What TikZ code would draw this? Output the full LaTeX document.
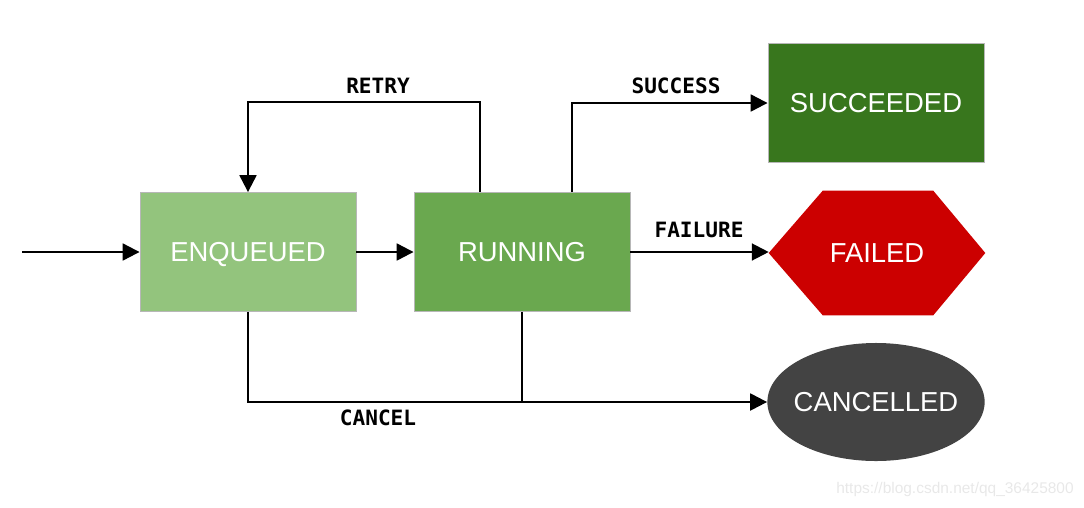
\documentclass[tikz,border=0pt]{standalone}
\usepackage{fontspec}
\setmainfont{Liberation Sans}
\newfontfamily\labelfont{DejaVu Sans Mono}
\usetikzlibrary{arrows.meta,shapes.geometric,backgrounds}
\definecolor{enqgreen}{HTML}{93C47D}
\definecolor{rungreen}{HTML}{6AA84F}
\definecolor{succgreen}{HTML}{38761D}
\definecolor{failred}{HTML}{CC0000}
\definecolor{cancgray}{HTML}{434343}
\definecolor{boxgray}{HTML}{B7B7B7}
\begin{document}
\begin{tikzpicture}[x=0.025cm, y=-0.025cm,
    statetext/.style={inner sep=0pt, text=white, text height=14pt, text depth=0pt,
        font=\fontsize{19.5}{22}\selectfont},
    state/.style={statetext, draw=boxgray, line width=0.6pt, minimum width=5.4cm, minimum height=2.975cm},
    flow/.style={-{Triangle[length=12pt,width=12pt]}, line width=1.6pt},
    lbl/.style={font=\labelfont\bfseries\fontsize{15}{18}\selectfont}]
    \useasboundingbox (0,0) rectangle (1084,507);

    % states
    \node[state, fill=enqgreen] (enq) at (248,252) {ENQUEUED};
    \node[state, fill=rungreen] (run) at (522,252) {RUNNING};
    \node[state, fill=succgreen] (succ) at (876,103) {SUCCEEDED};
    \node[statetext, minimum width=5.4cm, minimum height=3.1cm] (fail) at (877,253) {FAILED};
    \node[statetext, ellipse, fill=cancgray, minimum width=5.43cm, minimum height=2.95cm]
        (canc) at (876,402) {\makebox[0pt]{CANCELLED}};
    \begin{scope}[on background layer]
        \fill[failred] (fail.west) -- ([xshift=1.35cm]fail.north west) -- ([xshift=-1.3cm]fail.north east)
            -- (fail.east) -- ([xshift=-1.3cm]fail.south east) -- ([xshift=1.35cm]fail.south west) -- cycle;
    \end{scope}

    % transitions
    \coordinate (start) at (22,252);
    \draw[flow] (start) -- (enq);
    \draw[flow] (enq) -- (run);
    \draw[flow] (run.north -| 480,0) |- (enq.north |- 0,102) -- (enq.north);
    \draw[flow] (run.north -| 572,0) |- (succ);
    \draw[flow] (run.east) -- (run.east -| fail.west);
    \draw[flow] (enq.south) |- (canc);
    \draw[line width=1.6pt] (run.south) -- (run.south |- canc.west);

    % labels
    \node[lbl] (retry) at (378,86) {RETRY};
    \node[lbl] (success) at (676,86) {SUCCESS};
    \node[lbl] (failure) at (699,230) {FAILURE};
    \node[lbl] (cancel) at (378,418) {CANCEL};

    \node[text=black!9, font=\fontsize{11}{13}\selectfont] (mark) at (955,489) {https://blog.csdn.net/qq\_36425800};
\end{tikzpicture}
\end{document}
